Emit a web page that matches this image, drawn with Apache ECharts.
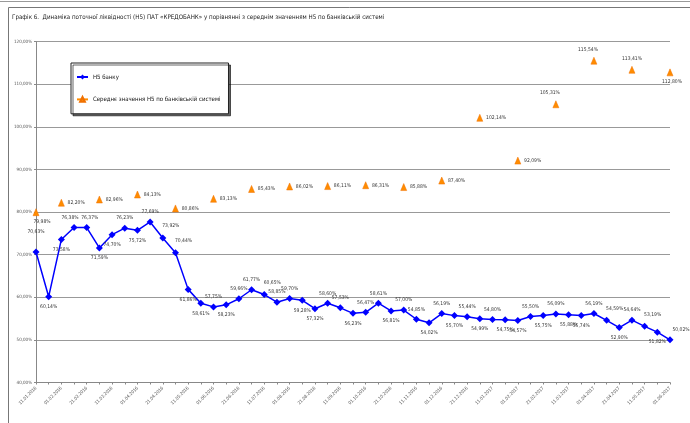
<!DOCTYPE html>
<html lang="uk">
<head>
    <meta charset="UTF-8">
    <title>Графік 6</title>
    <style>
        html, body { margin: 0; padding: 0; background: #fff; }
        #chart { width: 690px; height: 423px; }
    </style>
</head>
<body>
    <div id="chart"></div>
    <script src="https://cdn.jsdelivr.net/npm/echarts@6/dist/echarts.min.js"></script>
    <script>
        var dates = ["11.01.2016", "21.01.2016", "01.02.2016", "11.02.2016", "21.02.2016", "01.03.2016", "11.03.2016",
            "21.03.2016", "01.04.2016", "11.04.2016", "21.04.2016", "01.05.2016", "11.05.2016", "21.05.2016",
            "01.06.2016", "11.06.2016", "21.06.2016", "01.07.2016", "11.07.2016", "21.07.2016", "01.08.2016",
            "11.08.2016", "21.08.2016", "01.09.2016", "11.09.2016", "21.09.2016", "01.10.2016", "11.10.2016",
            "21.10.2016", "01.11.2016", "11.11.2016", "21.11.2016", "01.12.2016", "11.12.2016", "21.12.2016",
            "01.01.2017", "11.01.2017", "21.01.2017", "01.02.2017", "11.02.2017", "21.02.2017", "01.03.2017",
            "11.03.2017", "21.03.2017", "01.04.2017", "11.04.2017", "21.04.2017", "01.05.2017", "11.05.2017",
            "21.05.2017", "01.06.2017"];
        var bankN5 = [70.63, 60.14, 73.58, 76.38, 76.37, 71.59, 74.70, 76.23, 75.72, 77.69, 73.92, 70.44, 61.86,
            58.61, 57.75, 58.23, 59.66, 61.77, 60.65, 58.85, 59.70, 59.28, 57.32, 58.60, 57.53, 56.23, 56.47,
            58.61, 56.81, 57.00, 54.85, 54.02, 56.19, 55.70, 55.44, 54.99, 54.80, 54.75, 54.57, 55.50, 55.75,
            56.09, 55.88, 55.74, 56.19, 54.59, 52.90, 54.64, 53.19, 51.82, 50.02];
        // monthly system average, only on every third date
        var systemIdx = [0, 2, 5, 8, 11, 14, 17, 20, 23, 26, 29, 32, 35, 38, 41, 44, 47, 50];
        var systemN5 = [79.98, 82.20, 82.96, 84.13, 80.86, 83.13, 85.43, 86.02, 86.11, 86.31, 85.88, 87.40,
            102.14, 92.09, 105.31, 115.54, 113.41, 112.80];
        var yTicks = { min: 40, max: 120, step: 10 };

        // which labels sit under the point (Excel placement)
        var belowIdx = [1, 2, 5, 6, 8, 12, 13, 15, 21, 22, 25, 28, 31, 33, 35, 37, 38, 40, 42, 43, 46, 49];
        var rightTopIdx = [0, 10, 11, 18, 45, 48, 50];

        var font = "'Liberation Sans Narrow', 'DejaVu Sans Condensed', sans-serif";
        function pct(v) { return v.toFixed(2).replace('.', ',') + '%'; }

        var blueData = bankN5.map(function (v, i) {
            var pos = 'top';
            if (belowIdx.indexOf(i) >= 0) pos = 'bottom';
            var off = [0, 0];
            if (rightTopIdx.indexOf(i) >= 0) { pos = 'top'; off = [8, -2]; }
            if (i === 0) off = [0, -10];
            if (i === 3) off = [-4, 0];
            if (i === 4) off = [3, 0];
            if (i === 50) off = [11, 0];
            return { value: v, label: { position: pos, offset: off } };
        });

        // isolated points: no two neighbours are set, so no line gets drawn
        var orangeData = dates.map(function () { return null; });
        systemIdx.forEach(function (idx, k) {
            var pos = 'right', off = [0, 0];
            if (idx === 0) { pos = 'bottom'; off = [6, 0]; }
            if (idx === 41 || idx === 44) { pos = 'top'; off = [-6, -2]; }
            if (idx === 47) { pos = 'top'; off = [0, -2]; }
            if (idx === 50) { pos = 'bottom'; off = [2, 0]; }
            orangeData[idx] = { value: systemN5[k], label: { position: pos, offset: off } };
        });

        var chart = echarts.init(document.getElementById('chart'));
        chart.setOption({
            backgroundColor: '#fff',
            animation: false,
            textStyle: { fontFamily: font },
            title: {
                text: 'Графік 6.  Динаміка поточної ліквідності (Н5) ПАТ «КРЕДОБАНК» у порівнянні з середнім значенням Н5 по банківській системі',
                left: 12,
                top: 14,
                padding: 0,
                textStyle: { fontSize: 6.2, fontWeight: 'normal', color: '#222', fontFamily: font }
            },
            graphic: [
                { type: 'line', shape: { x1: 0, y1: 1.5, x2: 690, y2: 1.5 }, style: { stroke: '#999', lineWidth: 1 } },
                { type: 'polyline', shape: { points: [[8.5, 423], [8.5, 7.5], [690, 7.5]] }, style: { stroke: '#777', lineWidth: 1, fill: null } }
            ],
            legend: {
                orient: 'vertical',
                left: 71,
                top: 63,
                padding: [11, 8, 11, 5],
                itemGap: 16,
                itemWidth: 11,
                itemHeight: 6,
                backgroundColor: '#fff',
                borderColor: '#222',
                borderWidth: 1,
                shadowColor: 'rgba(0,0,0,0.6)',
                shadowOffsetX: 2,
                shadowOffsetY: 2,
                shadowBlur: 0,
                textStyle: { fontSize: 6, color: '#111', fontFamily: font },
                data: ['Н5 банку', 'Середнє значення Н5 по банківській системі']
            },
            grid: { left: 36, right: 20, top: 41.7, bottom: 40.5 },
            xAxis: {
                type: 'category',
                data: dates,
                boundaryGap: false,
                axisLine: { lineStyle: { color: '#888' } },
                axisTick: { interval: 0, length: 2, lineStyle: { color: '#888' } },
                axisLabel: { interval: 1, rotate: 45, fontSize: 4.5, color: '#555', margin: 5, fontFamily: font }
            },
            yAxis: {
                type: 'value',
                min: yTicks.min,
                max: yTicks.max,
                interval: yTicks.step,
                axisLine: { show: true, lineStyle: { color: '#888' } },
                axisTick: { show: true, length: 2, lineStyle: { color: '#888' } },
                splitLine: { lineStyle: { color: '#999', width: 1 } },
                axisLabel: { fontSize: 4.5, color: '#555', margin: 4, formatter: pct, fontFamily: font }
            },
            series: [{
                name: 'Н5 банку',
                type: 'line',
                data: blueData,
                color: '#0000ff',
                symbol: 'diamond',
                symbolSize: 7,
                lineStyle: { width: 1.5, color: '#0000ff' },
                itemStyle: { color: '#0000ff' },
                label: { show: true, fontSize: 5, color: '#333', distance: 4, formatter: function (p) { return pct(p.value); } }
            }, {
                name: 'Середнє значення Н5 по банківській системі',
                type: 'line',
                data: orangeData,
                connectNulls: false,
                symbol: 'triangle',
                symbolSize: [6, 7],
                lineStyle: { width: 1, color: '#ff8c00' },
                itemStyle: { color: '#ff8c00', borderColor: '#f07000', borderWidth: 0.5 },
                label: { show: true, fontSize: 5, color: '#333', distance: 3, formatter: function (p) { return pct(p.value); } }
            }]
        });
    </script>
</body>
</html>
